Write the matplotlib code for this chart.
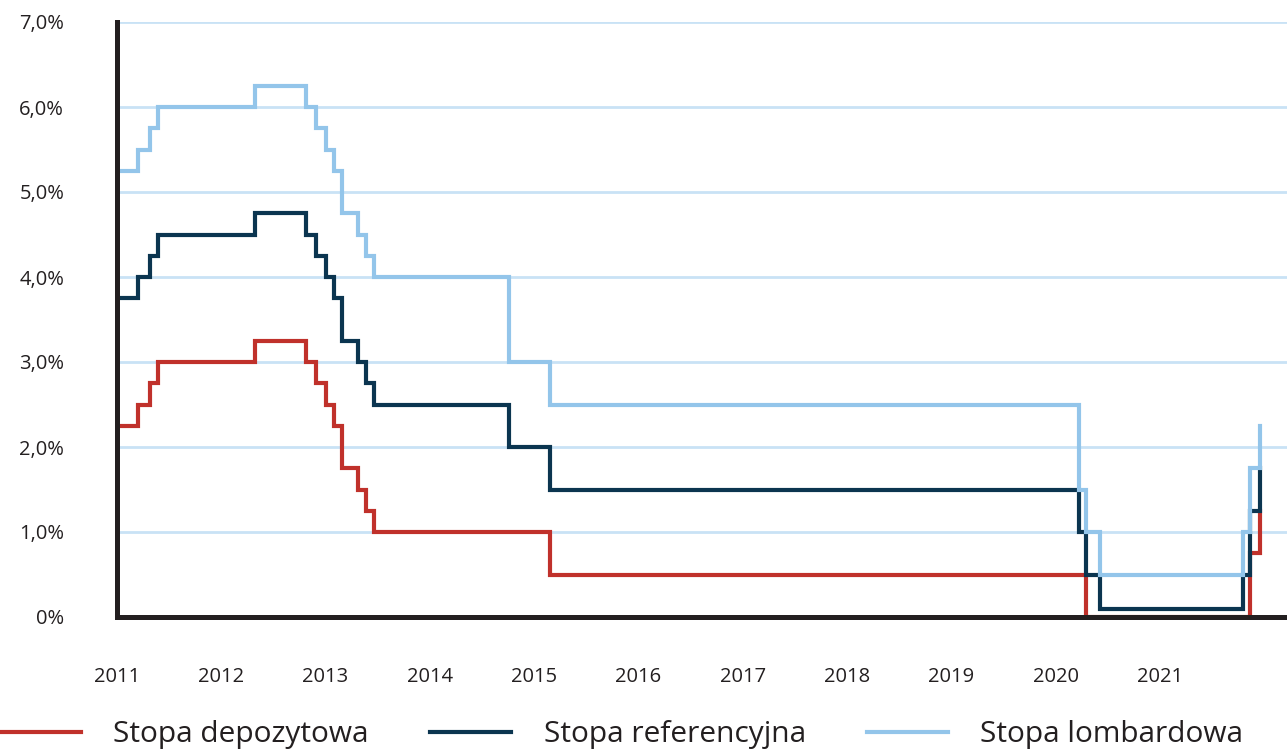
import matplotlib
matplotlib.use('Agg')
import matplotlib.pyplot as plt
from matplotlib.ticker import FuncFormatter

# change dates (decimal years) and rates after each change, in %
DATES = [2011.00, 2011.20, 2011.32, 2011.39, 2012.32, 2012.81, 2012.91, 2013.00,
         2013.08, 2013.16, 2013.31, 2013.39, 2013.46, 2014.76, 2015.15,
         2020.22, 2020.29, 2020.42, 2021.80, 2021.86, 2021.96]
depozytowa = [2.25, 2.50, 2.75, 3.00, 3.25, 3.00, 2.75, 2.50,
              2.25, 1.75, 1.50, 1.25, 1.00, 1.00, 0.50,
              0.50, 0.00, 0.00, 0.00, 0.75, 1.25]
referencyjna = [3.75, 4.00, 4.25, 4.50, 4.75, 4.50, 4.25, 4.00,
                3.75, 3.25, 3.00, 2.75, 2.50, 2.00, 1.50,
                1.00, 0.50, 0.10, 0.50, 1.25, 1.75]
lombardowa = [5.25, 5.50, 5.75, 6.00, 6.25, 6.00, 5.75, 5.50,
              5.25, 4.75, 4.50, 4.25, 4.00, 3.00, 2.50,
              1.50, 1.00, 0.50, 1.00, 1.75, 2.25]

YEARS = list(range(2011, 2022))
SERIES = [('Stopa depozytowa', depozytowa, '#c0312b'),
          ('Stopa referencyjna', referencyjna, '#0b3550'),
          ('Stopa lombardowa', lombardowa, '#93c5ea')]

plt.rcParams['font.family'] = ['Open Sans', 'DejaVu Sans']

fig = plt.figure(figsize=(12.87, 7.49), dpi=100)
ax = fig.add_axes([117 / 1287, 1 - 617 / 749, 1170 / 1287, 595 / 749])

for name, vals, col in SERIES:
    ax.step(DATES, vals, where='post', color=col, lw=3, label=name,
            solid_joinstyle='miter')

ax.set_xlim(2011, 2011 + 1170 / 104.3)
ax.set_ylim(0, 7)
ax.set_yticks(range(0, 8))
ax.yaxis.set_major_formatter(FuncFormatter(lambda v, p: '0%' if v == 0 else ('%.1f%%' % v).replace('.', ',')))
ax.set_xticks(YEARS)
ax.set_xticklabels([str(y) for y in YEARS])
ax.grid(axis='y', color='#c9e2f5', lw=2)
ax.set_axisbelow(True)

for s in ['top', 'right']:
    ax.spines[s].set_visible(False)
for s in ['left', 'bottom']:
    ax.spines[s].set_color('#231f20')
    ax.spines[s].set_linewidth(3.6)
    ax.spines[s].set_zorder(5)

ax.tick_params(axis='both', length=0, labelsize=14.5, colors='#231f20')
ax.tick_params(axis='y', pad=38)
ax.tick_params(axis='x', pad=36)

fig.legend(loc='lower left', bbox_to_anchor=(0.0, 0.0), ncol=3, frameon=False,
           borderpad=0, borderaxespad=0,
           fontsize=21.5, handlelength=2.7, handletextpad=1.1, columnspacing=2.05,
           labelcolor='#231f20')

fig.savefig('out.png', dpi=100)
